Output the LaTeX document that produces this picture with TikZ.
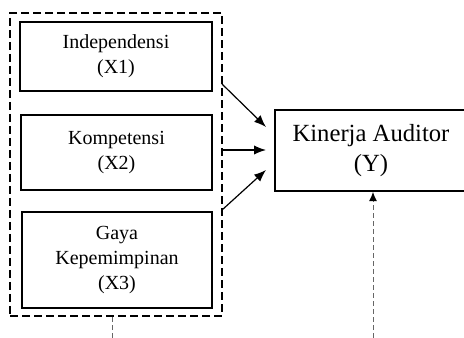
\documentclass[tikz,border=0pt]{standalone}
\usepackage{fontspec}
\setmainfont{Liberation Serif}
\usetikzlibrary{arrows.meta}

\tikzset{every picture/.style={line width=0.75pt}}
\tikzset{
  varbox/.style={draw, line width=1.3pt, align=center, inner sep=0pt, font=\fontsize{15}{19}\selectfont},
  linkarrow/.style={-{Latex[length=9pt,width=7pt]}, line width=0.9pt},
  outerline/.style={draw=black!60, dash pattern=on 3.5pt off 2.5pt, line width=0.75pt}
}

\begin{document}
\begin{tikzpicture}[x=0.75pt,y=0.75pt,yscale=-1,xscale=1]
%set diagram to the size of the reference
\useasboundingbox (0,0) rectangle (464,338);

%Dashed frame round the three variables
\node [draw, dashed, dash pattern=on 6pt off 3pt, line width=1.3pt, minimum width=159pt, minimum height=227.25pt, inner sep=0pt] (frame) at (116,164.5) {};

% Text Node
\node [varbox, minimum width=144pt, minimum height=51.75pt] (x1) at (116,56.5) {Independensi\\(X1)};
% Text Node
\node [varbox, minimum width=143.25pt, minimum height=56.25pt] (x2) at (116.5,152.5) {Kompetensi\\(X2)};
% Text Node
\node [varbox, minimum width=142.5pt, minimum height=72pt] (x3) at (117,260) {Gaya\\Kepemimpinan\\(X3)};
%Shape: Rectangle, runs past the right edge
\node [draw, line width=1.3pt, minimum width=165pt, minimum height=60.75pt, inner sep=0pt] (ybox) at (385,150.5) {};
% Text Node
\node [align=center, inner sep=0pt, font=\fontsize{18.5}{23}\selectfont] (y) at (371,150.5) {Kinerja Auditor\\(Y)};

%Start and end points of the arrows
\coordinate (s1) at (222,84);
\coordinate (s2) at (222,150);
\coordinate (s3) at (222,210);
\coordinate (e1) at (266,127);
\coordinate (e2) at (266,150);
\coordinate (e3) at (266,170);
\coordinate (bl) at (112,338);
\coordinate (br) at (373,338);

%Straight Lines
\draw [linkarrow] (s1) -- (e1);
\draw [linkarrow] (s2) -- (e2);
\draw [linkarrow] (s3) -- (e3);

%Dashed Lines
\draw [outerline] (bl) -- (bl |- frame.south);
\draw [outerline, -{Latex[length=7pt,width=6pt,black]}] (br) -- (br |- ybox.south);

\end{tikzpicture}
\end{document}
